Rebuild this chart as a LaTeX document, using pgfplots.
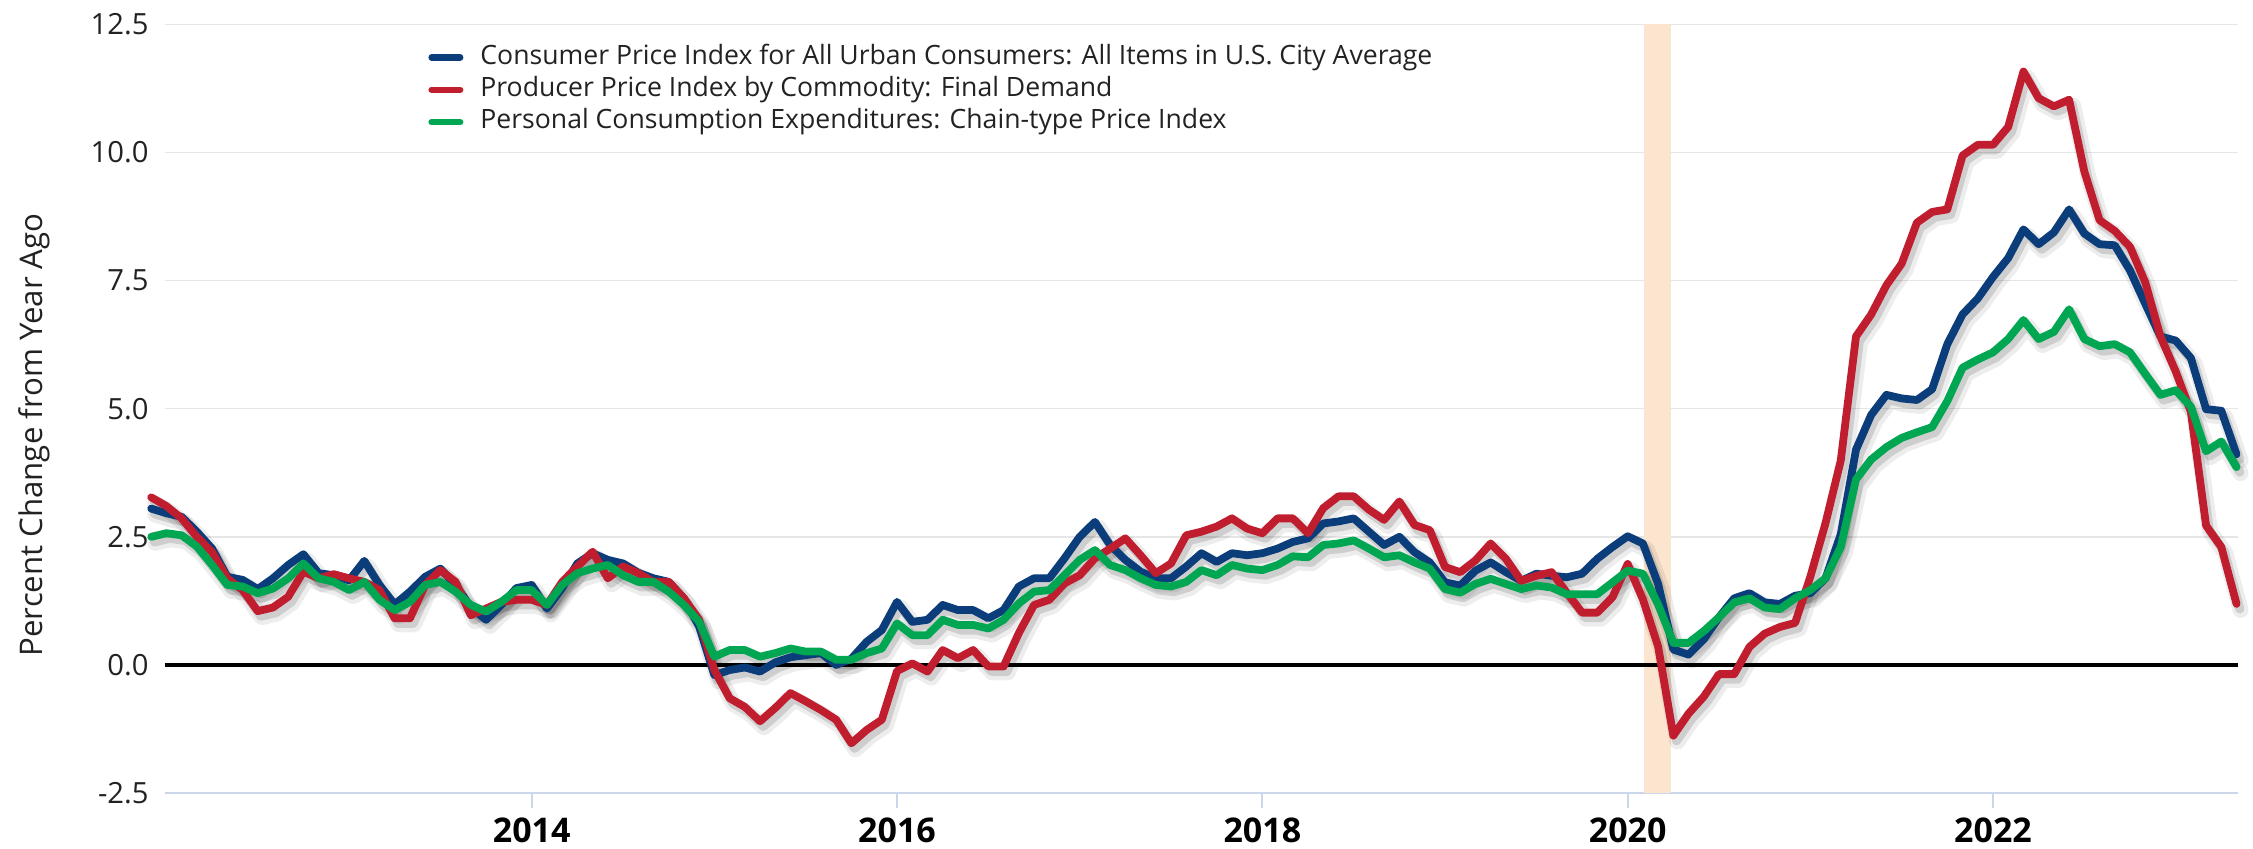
\documentclass[border=0pt]{standalone}
\usepackage{fontspec}
\setmainfont{Open Sans}
\usepackage{pgfplots}
\usepackage{pgfplotstable}
\pgfplotsset{compat=1.18}
\definecolor{cpiblue}{RGB}{11,61,122}
\definecolor{ppired}{RGB}{192,30,47}
\definecolor{pcegreen}{RGB}{0,166,81}
\definecolor{band}{RGB}{252,229,206}
\definecolor{axisline}{RGB}{204,214,235}
\definecolor{gridc}{RGB}{230,230,230}
\definecolor{txt}{RGB}{34,34,34}

\pgfplotstableread{
k cpi ppi pce
0 3.05 3.27 2.50
1 2.96 3.10 2.57
2 2.89 2.86 2.53
3 2.60 2.50 2.31
4 2.27 2.20 1.95
5 1.72 1.69 1.56
6 1.66 1.46 1.53
7 1.48 1.05 1.40
8 1.69 1.12 1.49
9 1.95 1.33 1.69
10 2.16 1.82 1.98
11 1.79 1.69 1.69
12 1.75 1.77 1.62
13 1.65 1.69 1.46
14 2.03 1.62 1.62
15 1.56 1.46 1.27
16 1.18 0.91 1.07
17 1.43 0.91 1.23
18 1.72 1.56 1.56
19 1.88 1.85 1.62
20 1.56 1.62 1.43
21 1.12 0.97 1.17
22 0.88 1.10 1.04
23 1.17 1.23 1.23
24 1.50 1.27 1.46
25 1.56 1.27 1.46
26 1.10 1.17 1.17
27 1.50 1.62 1.56
28 1.98 1.92 1.79
29 2.18 2.21 1.88
30 2.05 1.69 1.95
31 1.98 1.92 1.75
32 1.80 1.79 1.62
33 1.69 1.62 1.62
34 1.62 1.62 1.43
35 1.30 1.30 1.17
36 0.75 0.88 0.84
37 -0.20 -0.10 0.16
38 -0.10 -0.65 0.29
39 -0.05 -0.82 0.29
40 -0.13 -1.10 0.16
41 0.05 -0.84 0.23
42 0.15 -0.55 0.32
43 0.19 -0.71 0.26
44 0.23 -0.88 0.26
45 0.00 -1.07 0.10
46 0.12 -1.53 0.10
47 0.45 -1.27 0.23
48 0.68 -1.07 0.32
49 1.23 -0.12 0.81
50 0.84 0.03 0.58
51 0.88 -0.13 0.58
52 1.17 0.29 0.88
53 1.07 0.13 0.78
54 1.07 0.29 0.78
55 0.91 -0.03 0.71
56 1.07 -0.03 0.88
57 1.53 0.62 1.20
58 1.69 1.17 1.43
59 1.69 1.27 1.46
60 2.08 1.59 1.75
61 2.50 1.75 2.05
62 2.79 2.08 2.24
63 2.34 2.27 1.95
64 2.05 2.47 1.85
65 1.82 2.14 1.69
66 1.69 1.79 1.56
67 1.69 1.98 1.53
68 1.92 2.53 1.62
69 2.18 2.60 1.85
70 2.01 2.70 1.75
71 2.18 2.86 1.95
72 2.14 2.66 1.88
73 2.18 2.57 1.85
74 2.27 2.86 1.95
75 2.40 2.86 2.12
76 2.47 2.57 2.10
77 2.76 3.06 2.34
78 2.80 3.29 2.37
79 2.86 3.29 2.43
80 2.60 3.03 2.27
81 2.34 2.83 2.10
82 2.50 3.19 2.14
83 2.20 2.73 2.00
84 2.00 2.63 1.88
85 1.61 1.91 1.48
86 1.55 1.81 1.41
87 1.84 2.04 1.58
88 2.00 2.37 1.68
89 1.81 2.07 1.58
90 1.64 1.64 1.48
91 1.78 1.74 1.55
92 1.74 1.81 1.51
93 1.71 1.41 1.38
94 1.78 1.02 1.38
95 2.07 1.02 1.38
96 2.30 1.32 1.61
97 2.51 1.97 1.84
98 2.37 1.28 1.78
99 1.58 0.36 1.18
100 0.30 -1.38 0.43
101 0.20 -0.95 0.43
102 0.50 -0.62 0.66
103 0.93 -0.18 0.93
104 1.30 -0.18 1.22
105 1.40 0.35 1.30
106 1.22 0.61 1.12
107 1.19 0.74 1.09
108 1.35 0.82 1.30
109 1.40 1.72 1.46
110 1.69 2.77 1.69
111 2.55 3.99 2.30
112 4.20 6.41 3.62
113 4.88 6.84 4.01
114 5.27 7.41 4.25
115 5.20 7.83 4.43
116 5.17 8.63 4.54
117 5.38 8.84 4.64
118 6.26 8.89 5.15
119 6.84 9.94 5.80
120 7.15 10.15 5.96
121 7.57 10.15 6.10
122 7.94 10.50 6.36
123 8.50 11.58 6.73
124 8.21 11.06 6.36
125 8.44 10.90 6.50
126 8.89 11.03 6.94
127 8.42 9.63 6.36
128 8.21 8.68 6.22
129 8.19 8.47 6.26
130 7.70 8.16 6.10
131 7.05 7.47 5.68
132 6.41 6.41 5.27
133 6.33 5.73 5.36
134 5.99 4.94 5.04
135 4.99 2.72 4.17
136 4.96 2.30 4.36
137 4.11 1.19 3.86
}\data

\pgfplotsset{
  shadowA/.style={black, opacity=0.07, line width=8pt, line join=round, line cap=round, xshift=2pt, yshift=-3pt, forget plot},
  shadowB/.style={black, opacity=0.13, line width=4.6pt, line join=round, line cap=round, xshift=1.6pt, yshift=-2.5pt, forget plot},
  series/.style={line width=3.9pt, line join=round, line cap=round},
}

\begin{document}
\begin{tikzpicture}
\path[use as bounding box] (-82.5pt,-27.5pt) rectangle (1044pt,396.5pt);
\begin{axis}[
  at={(0pt,0pt)}, anchor=south west, scale only axis,
  width=1036.5pt, height=384.3pt,
  xmin=0.907, xmax=137.1, ymin=-2.5, ymax=12.5,
  clip=false,
  axis x line*=bottom, axis y line*=left,
  x axis line style={axisline, line width=1pt},
  y axis line style={draw=none},
  xtick={25,49,73,97,121},
  xticklabels={2014,2016,2018,2020,2022},
  xtick align=outside,
  major tick length=7.5pt,
  xtick style={axisline, line width=0.9pt},
  xticklabel style={font=\fontsize{17}{20}\selectfont\bfseries, text=black, anchor=north, inner sep=0pt, yshift=-4.9pt},
  ytick={-2.5,0,2.5,5,7.5,10,12.5},
  ytick style={draw=none},
  yticklabel style={font=\fontsize{14.6}{17}\selectfont, text=txt, anchor=east, inner sep=0pt, xshift=-8pt,
    /pgf/number format/.cd, fixed, fixed zerofill, precision=1, assume math mode=true},
  ymajorgrids=true,
  grid style={gridc, line width=0.7pt},
  ylabel={Percent Change from Year Ago},
  ylabel style={at={(axis description cs:-0.0629,0.466)}, anchor=center, font=\fontsize{15.6}{18}\selectfont, text=txt},
  legend style={at={(axis description cs:0,1)}, anchor=north west, xshift=131.5pt, yshift=-10.3pt,
    draw=none, fill=none, inner sep=0pt, font=\fontsize{13.3}{16}\selectfont, text=txt, row sep=4.4pt,
    nodes={inner sep=0pt, text height=9.3pt, text depth=2.5pt, anchor=base west},
    /tikz/every odd column/.append style={column sep=8.5pt}},
  legend cell align=left,
  legend image code/.code={\draw[line width=3.2pt, line cap=round] (1.6pt,0.33em) -- (15.9pt,0.33em);},
]
\addplot[draw=none, fill=band, forget plot] coordinates {(98.1,-2.5) (99.85,-2.5) (99.85,12.5) (98.1,12.5)} -- cycle;
\addplot[black, line width=1.6pt, forget plot] coordinates {(0.907,0) (137.1,0)};
\addplot[shadowA] table[x=k,y=cpi]{\data};
\addplot[shadowA] table[x=k,y=ppi]{\data};
\addplot[shadowA] table[x=k,y=pce]{\data};
\addplot[shadowB] table[x=k,y=cpi]{\data};
\addplot[shadowB] table[x=k,y=ppi]{\data};
\addplot[shadowB] table[x=k,y=pce]{\data};
\addplot[series, cpiblue] table[x=k,y=cpi]{\data};
\addlegendentry{Consumer Price Index for All Urban Consumers: All Items in U.S. City Average}
\addplot[series, ppired] table[x=k,y=ppi]{\data};
\addlegendentry{Producer Price Index by Commodity: Final Demand}
\addplot[series, pcegreen] table[x=k,y=pce]{\data};
\addlegendentry{Personal Consumption Expenditures: Chain-type Price Index}
\end{axis}
\end{tikzpicture}
\end{document}
